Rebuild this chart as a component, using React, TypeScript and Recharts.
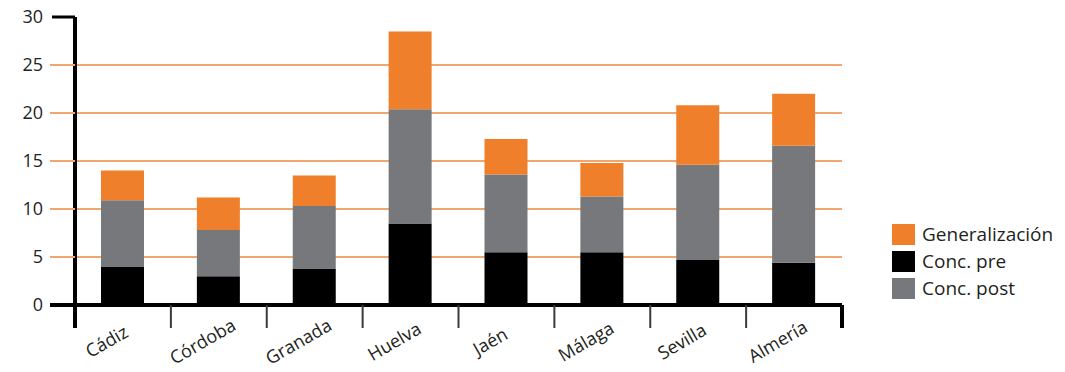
import React from "react";
import { BarChart, Bar, XAxis, YAxis, CartesianGrid, Legend } from "recharts";

const provinces = ["Cádiz", "Córdoba", "Granada", "Huelva", "Jaén", "Málaga", "Sevilla", "Almería"];
const concPre = [4.0, 3.0, 3.8, 8.5, 5.5, 5.5, 4.7, 4.4];
const concPost = [6.9, 4.8, 6.5, 11.9, 8.1, 5.8, 9.9, 12.2];
const generalizacion = [3.1, 3.4, 3.2, 8.1, 3.7, 3.5, 6.2, 5.4];
const yTicks = [0, 5, 10, 15, 20, 25, 30];

const seriesNames = { gen: "Generalización", pre: "Conc. pre", post: "Conc. post" };
const ORANGE = "#EF7F2B";
const GRAY = "#77787B";
const BLACK = "#000000";
const GRID = "#F2A66E";
const TEXT = "#231F20";
const FONT = "'Open Sans', 'Liberation Sans', sans-serif";

const W = 1065;
const H = 372;
const AXIS_X = 75;
const TOP = 17;
const RIGHT_EDGE = 842;
const XAXIS_H = 67;
const AXIS_Y = H - XAXIS_H;
const BAND = (RIGHT_EDGE - AXIS_X) / provinces.length;
const LEGEND_W = 170;

const data = provinces.map((p, i) => ({
  name: p,
  pre: concPre[i],
  post: concPost[i],
  gen: generalizacion[i],
}));

const YTick = (props: any) => {
  const { y, payload } = props;
  const v = payload.value;
  let line: React.ReactNode = null;
  if (v === 0) {
    line = <line x1={AXIS_X - 25} x2={AXIS_X} y1={y} y2={y} stroke={BLACK} strokeWidth={4} />;
  } else if (v === 30) {
    line = <line x1={AXIS_X - 23} x2={AXIS_X} y1={y} y2={y} stroke={BLACK} strokeWidth={3} />;
  } else {
    line = <line x1={AXIS_X - 25} x2={AXIS_X} y1={y} y2={y} stroke={GRID} strokeWidth={2} />;
  }
  return (
    <g>
      {line}
      <text x={AXIS_X - 32} y={y} dy="0.35em" textAnchor="end" fontSize={18} fontFamily={FONT} fill={TEXT}>
        {v}
      </text>
    </g>
  );
};

const XTick = (props: any) => {
  const { x, payload, index } = props;
  const last = index === provinces.length - 1;
  const rx = x + BAND / 2;
  const lx = x - BAND / 2;
  const tx = x - 13;
  const ty = AXIS_Y + 42;
  return (
    <g>
      {index === 0 && (
        <line x1={lx} x2={lx} y1={AXIS_Y} y2={AXIS_Y + 23} stroke={BLACK} strokeWidth={4} />
      )}
      <line
        x1={rx}
        x2={rx}
        y1={AXIS_Y}
        y2={AXIS_Y + 23}
        stroke={last ? BLACK : "#3a3a3a"}
        strokeWidth={last ? 4 : 2}
      />
      <text
        x={tx}
        y={ty}
        textAnchor="middle"
        fontSize={18}
        fontFamily={FONT}
        fill={TEXT}
        transform={`rotate(-30 ${tx} ${ty})`}
      >
        {payload.value}
      </text>
    </g>
  );
};

const GridLine = (props: any) => {
  const { x1, x2, y1, y2 } = props;
  if (y1 < TOP + 2 || y1 > AXIS_Y - 2) return <g />;
  return <line x1={x1} x2={x2} y1={y1} y2={y2} stroke={GRID} strokeWidth={2} />;
};

const legendItems = [
  { key: "gen", color: ORANGE },
  { key: "pre", color: BLACK },
  { key: "post", color: GRAY },
];

const LegendContent = () => (
  <div style={{ fontFamily: FONT, fontSize: 19, color: TEXT, width: LEGEND_W }}>
    {legendItems.map((it) => (
      <div key={it.key} style={{ display: "flex", alignItems: "center", height: 27 }}>
        <div style={{ width: 23, height: 21, background: it.color, marginRight: 7, flexShrink: 0 }} />
        <span style={{ lineHeight: "21px", whiteSpace: "nowrap" }}>{(seriesNames as any)[it.key]}</span>
      </div>
    ))}
  </div>
);

export default function App() {
  return (
    <div style={{ position: "absolute", left: 0, top: 0, width: W, height: H, background: "#fff" }}>
      <BarChart
        width={W}
        height={H}
        data={data}
        margin={{ top: TOP, right: W - RIGHT_EDGE - LEGEND_W, bottom: 0, left: 0 }}
      >
        <CartesianGrid vertical={false} horizontal={GridLine as any} />
        <XAxis
          dataKey="name"
          height={XAXIS_H}
          axisLine={{ stroke: BLACK, strokeWidth: 4 }}
          tickLine={false}
          tick={XTick}
          interval={0}
        />
        <YAxis
          width={AXIS_X}
          domain={[0, 30]}
          ticks={yTicks}
          axisLine={{ stroke: BLACK, strokeWidth: 4 }}
          tickLine={false}
          tick={YTick}
          interval={0}
        />
        <Legend
          content={LegendContent}
          layout="vertical"
          verticalAlign="top"
          align="right"
          wrapperStyle={{ left: 892, top: 221, width: LEGEND_W }}
        />
        <Bar dataKey="pre" name={seriesNames.pre} stackId="a" fill={BLACK} barSize={43} isAnimationActive={false} />
        <Bar dataKey="post" name={seriesNames.post} stackId="a" fill={GRAY} barSize={43} isAnimationActive={false} />
        <Bar dataKey="gen" name={seriesNames.gen} stackId="a" fill={ORANGE} barSize={43} isAnimationActive={false} />
      </BarChart>
    </div>
  );
}
